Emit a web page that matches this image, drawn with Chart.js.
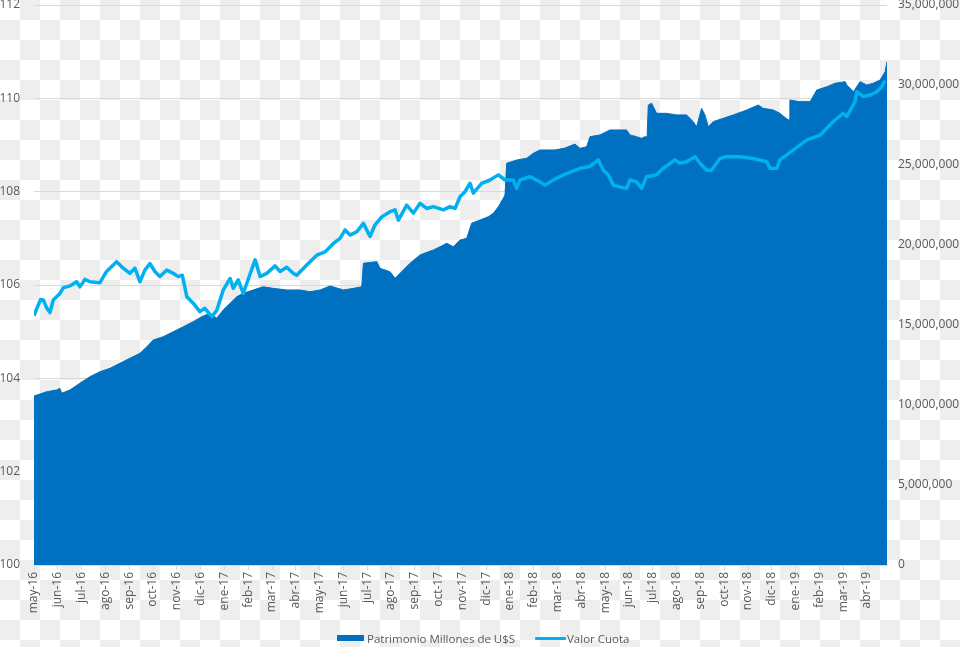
<!DOCTYPE html>
<html>
<head>
<meta charset="utf-8">
<script src="https://cdn.jsdelivr.net/npm/chart.js@4/dist/chart.umd.min.js"></script>
<style>
    body {
        margin: 0;
        width: 960px;
        height: 647px;
        overflow: hidden;
        background: repeating-conic-gradient(#eeeeee 0 25%, #ffffff 0 50%) 0 0 / 40px 40px;
        font-family: "Open Sans", sans-serif;
    }
    #wrap { position: relative; width: 960px; height: 647px; }
    .legend { position: absolute; top: 630px; height: 18px; line-height: 18px; font-size: 11.5px; color: #595959; white-space: nowrap; }
    .swatch { position: absolute; }
</style>
</head>
<body>
<div id="wrap">
    <canvas id="myChart" width="960" height="647"></canvas>
    <div class="swatch" style="left:337px;top:635px;width:27px;height:6px;background:#0070c0"></div>
    <div class="legend" style="left:367px">Patrimonio Millones de U$S</div>
    <div class="swatch" style="left:535px;top:637px;width:31px;height:3px;background:#00b0f0;border-radius:1px"></div>
    <div class="legend" style="left:567px">Valor Cuota</div>
</div>
<script>
// Month labels for the x axis (index 0 = may-16)
const meses = ["may-16", "jun-16", "jul-16", "ago-16", "sep-16", "oct-16", "nov-16", "dic-16",
    "ene-17", "feb-17", "mar-17", "abr-17", "may-17", "jun-17", "jul-17", "ago-17", "sep-17", "oct-17",
    "nov-17", "dic-17", "ene-18", "feb-18", "mar-18", "abr-18", "may-18", "jun-18", "jul-18", "ago-18",
    "sep-18", "oct-18", "nov-18", "dic-18", "ene-19", "feb-19", "mar-19", "abr-19"];

// Valor Cuota: position in months since may-16, and value
const cuotaMes = [0, 0.08, 0.28, 0.39, 0.53, 0.67, 0.81, 1.09, 1.23, 1.51,
    1.79, 1.93, 2.14, 2.35, 2.77, 3.05, 3.47, 3.75, 4.03, 4.24,
    4.45, 4.66, 4.87, 5.08, 5.29, 5.58, 5.85, 6.06, 6.23, 6.42,
    6.69, 6.97, 7.18, 7.47, 7.68, 7.95, 8.24, 8.37, 8.58, 8.79,
    9.29, 9.50, 9.78, 10.13, 10.34, 10.62, 10.89, 11.04, 11.46, 11.88,
    12.23, 12.58, 12.86, 13.07, 13.28, 13.56, 13.84, 14.12, 14.33, 14.61,
    14.96, 15.17, 15.31, 15.66, 15.94, 16.22, 16.50, 16.78, 17.20, 17.48,
    17.69, 17.90, 18.11, 18.32, 18.46, 18.81, 19.16, 19.51, 19.79, 20.14,
    20.28, 20.42, 20.84, 21.26, 21.47, 21.82, 22.24, 22.94, 23.36, 23.71,
    23.92, 24.13, 24.34, 24.55, 24.90, 25.04, 25.32, 25.53, 25.74, 26.16,
    26.44, 26.93, 27.14, 27.42, 27.77, 27.98, 28.26, 28.47, 28.82, 29.10,
    29.66, 30.22, 30.79, 30.92, 31.21, 31.34, 31.90, 32.47, 33.03, 33.31,
    33.58, 34.00, 34.15, 34.50, 34.57, 34.85, 35.13, 35.41, 35.62, 35.76];
const cuotaValor = [105.34, 105.45, 105.69, 105.68, 105.51, 105.41, 105.68, 105.82, 105.94, 105.98,
    106.07, 105.96, 106.12, 106.07, 106.05, 106.29, 106.50, 106.36, 106.25, 106.36,
    106.07, 106.32, 106.46, 106.29, 106.18, 106.32, 106.25, 106.18, 106.21, 105.75,
    105.61, 105.43, 105.50, 105.32, 105.46, 105.89, 106.14, 105.93, 106.11, 105.82,
    106.54, 106.18, 106.25, 106.41, 106.29, 106.38, 106.25, 106.21, 106.43, 106.64,
    106.71, 106.89, 107.00, 107.18, 107.07, 107.14, 107.32, 107.04, 107.29, 107.46,
    107.57, 107.61, 107.39, 107.71, 107.54, 107.75, 107.64, 107.68, 107.61, 107.68,
    107.64, 107.89, 108.00, 108.18, 107.97, 108.18, 108.25, 108.36, 108.25, 108.25,
    108.07, 108.25, 108.32, 108.21, 108.14, 108.25, 108.36, 108.50, 108.54, 108.68,
    108.46, 108.36, 108.14, 108.11, 108.07, 108.25, 108.21, 108.07, 108.32, 108.36,
    108.50, 108.68, 108.61, 108.64, 108.75, 108.61, 108.46, 108.46, 108.71, 108.75,
    108.75, 108.71, 108.64, 108.50, 108.50, 108.68, 108.89, 109.11, 109.21, 109.36,
    109.50, 109.68, 109.61, 109.93, 110.14, 110.04, 110.07, 110.14, 110.25, 110.38];

// Patrimonio: position in months since may-16, and value in millions
const patMes = [0, 0.53, 0.95, 1.09, 1.16, 1.51, 1.93, 2.35, 2.77, 3.19,
    3.61, 4.03, 4.45, 4.74, 5.01, 5.43, 5.85, 6.27, 6.69, 7.05,
    7.39, 7.68, 7.95, 8.24, 8.52, 8.79, 9.21, 9.63, 10.05, 10.62,
    11.18, 11.60, 12.02, 12.44, 13.00, 13.42, 13.77, 13.84, 14.40, 14.54,
    14.96, 15.17, 15.38, 15.80, 16.22, 16.78, 17.06, 17.34, 17.62, 17.90,
    18.18, 18.39, 18.74, 19.09, 19.30, 19.51, 19.72, 19.79, 19.86, 20.28,
    20.70, 20.98, 21.26, 21.89, 22.31, 22.73, 22.94, 23.22, 23.36, 23.78,
    24.20, 24.48, 24.90, 25.04, 25.32, 25.53, 25.67, 25.76, 25.81, 25.95,
    26.16, 26.58, 27.00, 27.42, 27.70, 27.84, 28.05, 28.19, 28.33, 28.54,
    28.96, 29.38, 29.95, 30.43, 30.64, 31.06, 31.34, 31.69, 31.74, 31.76,
    32.18, 32.61, 32.89, 33.31, 33.66, 34.08, 34.15, 34.43, 34.71, 34.99,
    35.26, 35.55, 35.76, 35.84];
const patMillones = [10.56, 10.83, 10.94, 11.04, 10.73, 10.94, 11.36, 11.77, 12.08, 12.29,
    12.61, 12.92, 13.23, 13.64, 14.06, 14.27, 14.58, 14.89, 15.21, 15.52,
    15.73, 15.42, 15.94, 16.36, 16.77, 16.98, 17.19, 17.39, 17.29, 17.19,
    17.19, 17.08, 17.19, 17.44, 17.19, 17.29, 17.39, 18.86, 18.96, 18.54,
    18.33, 17.92, 18.23, 18.86, 19.38, 19.69, 19.89, 20.11, 19.89, 20.31,
    20.42, 21.36, 21.56, 21.77, 21.98, 22.39, 22.92, 23.13, 25.11, 25.31,
    25.42, 25.73, 25.94, 25.94, 26.06, 26.31, 26.04, 26.14, 26.77, 26.88,
    27.19, 27.19, 27.19, 26.88, 26.77, 26.67, 26.77, 26.75, 28.75, 28.86,
    28.23, 28.23, 28.13, 28.13, 27.71, 27.39, 28.54, 28.13, 27.39, 27.71,
    27.92, 28.13, 28.44, 28.75, 28.54, 28.44, 28.23, 27.81, 27.88, 29.06,
    28.96, 28.96, 29.69, 29.89, 30.11, 30.21, 30.00, 29.58, 30.21, 30.00,
    30.11, 30.31, 30.83, 31.46];

const tickFont = { family: "Open Sans", size: 12 };
const tickColor = "#595959";
const gridColor = "#d9d9d9";

const cuotaData = cuotaMes.map((m, i) => ({ x: m, y: cuotaValor[i] }));
const patData = patMes.map((m, i) => ({ x: m, y: patMillones[i] * 1000000 }));

const ctx = document.getElementById("myChart").getContext("2d");

const myChart = new Chart(ctx, {
    type: "line",
    data: {
        datasets: [
            {
                label: "Valor Cuota",
                data: cuotaData,
                yAxisID: "y",
                borderColor: "#00b0f0",
                borderWidth: 3.5,
                borderJoinStyle: "round",
                pointRadius: 0,
                fill: false,
                order: 0
            },
            {
                label: "Patrimonio Millones de U$S",
                data: patData,
                yAxisID: "y1",
                borderColor: "#0070c0",
                backgroundColor: "#0070c0",
                borderWidth: 1,
                pointRadius: 0,
                fill: "origin",
                order: 1
            }
        ]
    },
    options: {
        responsive: false,
        animation: false,
        layout: { padding: { top: 5, left: 0, right: 0, bottom: 0 } },
        plugins: {
            legend: { display: false },
            tooltip: { enabled: false }
        },
        scales: {
            x: {
                type: "linear",
                min: 0,
                max: 35.84,
                ticks: {
                    stepSize: 1,
                    includeBounds: false,
                    autoSkip: false,
                    minRotation: 90,
                    maxRotation: 90,
                    padding: 2,
                    color: tickColor,
                    font: tickFont,
                    callback: value => meses[Math.round(value)] || ""
                },
                grid: { drawOnChartArea: false, drawTicks: true, tickLength: 5, color: gridColor },
                border: { color: gridColor },
                afterFit: scale => {
                    scale.height = 82;
                    scale.paddingLeft = 0;
                    scale.paddingRight = 0;
                }
            },
            y: {
                position: "left",
                min: 100,
                max: 112,
                ticks: { stepSize: 2, padding: 14, color: tickColor, font: tickFont },
                grid: { color: gridColor, drawTicks: false },
                border: { display: false },
                afterFit: scale => {
                    scale.width = 34;
                    scale.paddingTop = 0;
                    scale.paddingBottom = 0;
                }
            },
            y1: {
                position: "right",
                min: 0,
                max: 35000000,
                ticks: {
                    stepSize: 5000000,
                    padding: 11,
                    color: tickColor,
                    font: tickFont,
                    callback: value => value.toLocaleString("en-US")
                },
                grid: { drawOnChartArea: false, drawTicks: false },
                border: { display: false },
                afterFit: scale => {
                    scale.width = 73;
                    scale.paddingTop = 0;
                    scale.paddingBottom = 0;
                }
            }
        }
    }
});
</script>
</body>
</html>
